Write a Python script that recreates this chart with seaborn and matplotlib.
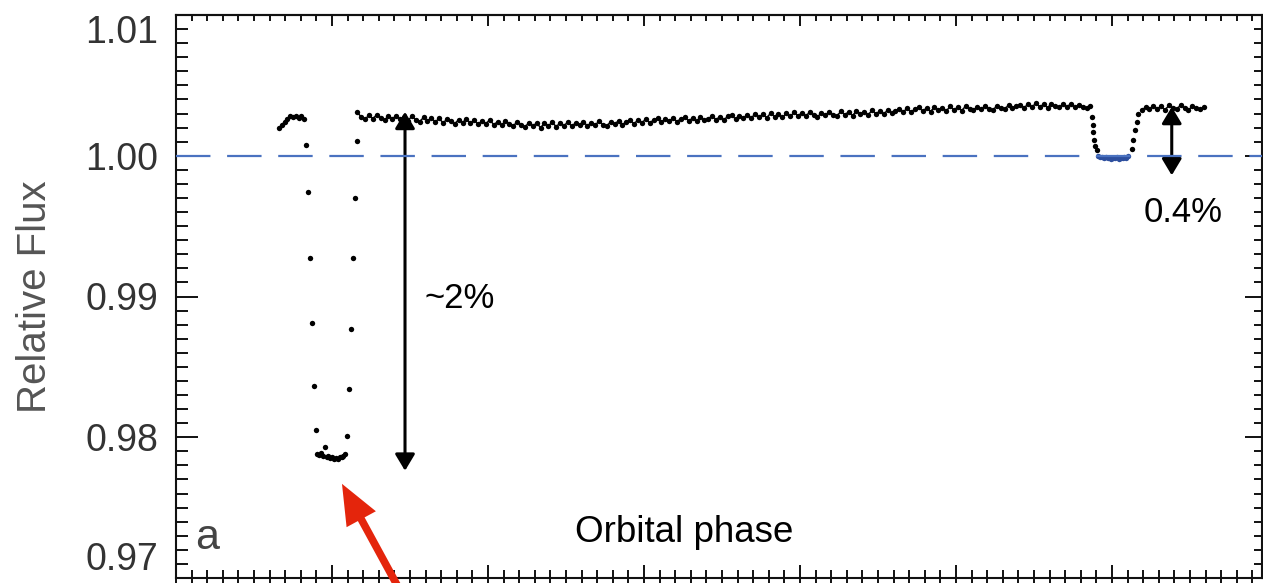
import numpy as np
import pandas as pd
import seaborn as sns
import matplotlib.pyplot as plt
from matplotlib.ticker import MultipleLocator

sns.set_style('ticks')
plt.rcParams['font.family'] = ['Liberation Sans', 'DejaVu Sans']

# --- data (orbital phase vs relative flux) ---
# out-of-transit points before the primary transit
pre_phase = [-0.0340, -0.0322, -0.0304, -0.0286, -0.0268, -0.0250, -0.0232, -0.0214, -0.0196, -0.0178]
pre_flux = [1.00200, 1.00218, 1.00242, 1.00262, 1.00280, 1.00276, 1.00284, 1.00271, 1.00279, 1.00262]

# primary transit (ingress, bottom, egress)
transit_phase = [-0.0167, -0.0152, -0.0141, -0.0130, -0.0115, -0.0104,
                 -0.0095, -0.0083, -0.0071, -0.0059, -0.0047, -0.0035, -0.0023, -0.0011,
                 0.0001, 0.0013, 0.0025, 0.0037, 0.0049, 0.0061, 0.0073, 0.0085,
                 0.0098, 0.0109, 0.0122, 0.0137, 0.0147, 0.0158]
transit_flux = [1.00075, 0.99742, 0.99273, 0.98813, 0.98362, 0.98053,
                0.97880, 0.97872, 0.97886, 0.97868, 0.97928, 0.97858, 0.97865, 0.97850,
                0.97858, 0.97846, 0.97855, 0.97849, 0.97861, 0.97857, 0.97870, 0.97878,
                0.98006, 0.98343, 0.98770, 0.99273, 0.99702, 1.00103]

# out-of-transit baseline between the eclipses (one point every 0.0025 in phase)
base_start, base_step = 0.0162, 0.0025
base_flux = [
    1.00310, 1.00275, 1.00262, 1.00286, 1.00264, 1.00290, 1.00270, 1.00252, 1.00283, 1.00262,
    1.00285, 1.00258, 1.00274, 1.00250, 1.00280, 1.00256, 1.00243, 1.00272, 1.00248, 1.00268,
    1.00240, 1.00266, 1.00233, 1.00260, 1.00245, 1.00226, 1.00257, 1.00236, 1.00262, 1.00231,
    1.00251, 1.00224, 1.00248, 1.00228, 1.00256, 1.00220, 1.00242, 1.00215, 1.00247, 1.00226,
    1.00213, 1.00240, 1.00220, 1.00203, 1.00236, 1.00210, 1.00233, 1.00199, 1.00231, 1.00214,
    1.00237, 1.00207, 1.00232, 1.00213, 1.00240, 1.00209, 1.00234, 1.00216, 1.00243, 1.00211,
    1.00236, 1.00219, 1.00245, 1.00221, 1.00212, 1.00242, 1.00224, 1.00249, 1.00220, 1.00243,
    1.00251, 1.00227, 1.00256, 1.00235, 1.00260, 1.00233, 1.00254, 1.00267, 1.00238, 1.00262,
    1.00245, 1.00269, 1.00242, 1.00264, 1.00273, 1.00248, 1.00267, 1.00244, 1.00276, 1.00253,
    1.00261, 1.00284, 1.00256, 1.00278, 1.00253, 1.00281, 1.00289, 1.00260, 1.00285, 1.00267,
    1.00292, 1.00265, 1.00299, 1.00274, 1.00295, 1.00270, 1.00303, 1.00278, 1.00296, 1.00272,
    1.00301, 1.00279, 1.00308, 1.00284, 1.00304, 1.00280, 1.00311, 1.00287, 1.00276, 1.00305,
    1.00286, 1.00313, 1.00290, 1.00282, 1.00316, 1.00293, 1.00310, 1.00285, 1.00319, 1.00296,
    1.00313, 1.00291, 1.00323, 1.00298, 1.00317, 1.00294, 1.00326, 1.00302, 1.00321, 1.00329,
    1.00313, 1.00336, 1.00310, 1.00332, 1.00343, 1.00317, 1.00339, 1.00314, 1.00346, 1.00324,
    1.00341, 1.00317, 1.00350, 1.00326, 1.00345, 1.00321, 1.00353, 1.00330, 1.00324, 1.00348,
    1.00329, 1.00354, 1.00333, 1.00322, 1.00357, 1.00336, 1.00331, 1.00360, 1.00338, 1.00355,
    1.00363, 1.00341, 1.00367, 1.00346, 1.00373, 1.00348, 1.00365, 1.00342, 1.00369, 1.00350,
    1.00344, 1.00366, 1.00347, 1.00371, 1.00343, 1.00363, 1.00349, 1.00338, 1.00350,
]

# secondary eclipse ingress / egress
sec_phase = [0.4870, 0.4876, 0.4880, 0.4886, 0.4891, 0.4902,
             0.5126, 0.5137, 0.5147, 0.5158, 0.5168]
sec_flux = [1.00276, 1.00217, 1.00170, 1.00110, 1.00068, 1.00039,
            1.00051, 1.00110, 1.00181, 1.00241, 1.00300]

# secondary eclipse bottom (drawn in blue)
sec_bottom_phase = [0.4912, 0.4924, 0.4936, 0.4948, 0.4960, 0.4972, 0.4984, 0.4996, 0.5008,
                    0.5020, 0.5032, 0.5044, 0.5056, 0.5068, 0.5080, 0.5092, 0.5104]
sec_bottom_flux = [0.99995, 0.99988, 0.99992, 0.99984, 0.99990, 0.99981, 0.99986, 0.99979, 0.99985,
                   0.99982, 0.99988, 0.99980, 0.99987, 0.99984, 0.99991, 0.99986, 0.99995]

# baseline after the secondary eclipse
post_phase = [0.5190, 0.5215, 0.5240, 0.5265, 0.5290, 0.5315, 0.5340, 0.5365, 0.5390,
              0.5415, 0.5440, 0.5465, 0.5490, 0.5515, 0.5540, 0.5565, 0.5590]
post_flux = [1.00322, 1.00345, 1.00330, 1.00356, 1.00334, 1.00351, 1.00326, 1.00358, 1.00337,
             1.00331, 1.00360, 1.00341, 1.00325, 1.00352, 1.00336, 1.00330, 1.00345]

y_ticks = [0.97, 0.98, 0.99, 1.00, 1.01]
y_tick_labels = ['0.97', '0.98', '0.99', '1.00', '1.01']

base_phase = base_start + base_step * np.arange(len(base_flux))

black_pts = pd.DataFrame({
    'phase': np.concatenate([pre_phase, transit_phase, base_phase, sec_phase, post_phase]),
    'flux': np.concatenate([pre_flux, transit_flux, base_flux, sec_flux, post_flux]),
})
blue_pts = pd.DataFrame({'phase': sec_bottom_phase, 'flux': sec_bottom_flux})

# out-of-eclipse stretches, joined so the dense cadence reads as a band
oot = pd.DataFrame({
    'phase': np.concatenate([pre_phase, base_phase, post_phase]),
    'flux': np.concatenate([pre_flux, base_flux, post_flux]),
    'segment': ['pre'] * len(pre_phase) + ['base'] * len(base_phase) + ['post'] * len(post_phase),
})

# --- figure ---
W, H = 1263, 583
fig = plt.figure(figsize=(W / 100, H / 100), dpi=100)
ax = fig.add_axes([176 / W, 5 / H, (1262 - 176) / W, (578 - 15) / H])

sns.lineplot(data=oot, x='phase', y='flux', units='segment', estimator=None, ax=ax,
             color='black', lw=1.1, zorder=3)
sns.scatterplot(data=black_pts, x='phase', y='flux', ax=ax, color='black', s=15,
                linewidth=0, zorder=3)
sns.scatterplot(data=blue_pts, x='phase', y='flux', ax=ax, color='#2d4f9e', s=15,
                linewidth=0, zorder=3)

ax.axhline(1.0, color='#4a72c0', lw=1.6, ls=(0, (15.5, 7.5)), zorder=4)

ax.set_xlim(-0.1, (1262 - 332) / 1560)
ax.set_ylim(0.97, 1.01)
ax.set_xlabel('')
ax.set_ylabel('Relative Flux', fontsize=29, color='#555555')
ax.yaxis.set_label_coords(-0.112, 0.5)

for s in ax.spines.values():
    s.set_linewidth(1.5)
    s.set_color('#111111')

ax.xaxis.set_major_locator(MultipleLocator(0.1))
ax.xaxis.set_minor_locator(MultipleLocator(0.01))
ax.yaxis.set_minor_locator(MultipleLocator(0.001))
ax.set_yticks(y_ticks)
ax.set_yticklabels(y_tick_labels)

ax.tick_params(axis='x', which='both', direction='inout', top=False, labelbottom=False,
               width=1.4, color='#111111')
ax.tick_params(axis='x', which='major', length=19)
ax.tick_params(axis='x', which='minor', length=11.5)
ax.tick_params(axis='y', which='both', direction='in', right=False, width=1.4,
               color='#111111', labelsize=27, labelcolor='#333333', pad=13)
ax.tick_params(axis='y', which='major', length=16)
ax.tick_params(axis='y', which='minor', length=8.6)

# the end labels sit inside the frame, as in the reference
ylabels = ax.get_yticklabels()
ylabels[0].set_va('bottom')
ylabels[-1].set_va('top')

# top and right axes have shorter inward ticks
top = ax.secondary_xaxis('top')
top.xaxis.set_major_locator(MultipleLocator(0.1))
top.xaxis.set_minor_locator(MultipleLocator(0.01))
top.tick_params(which='both', direction='in', labeltop=False, width=1.4, color='#111111')
top.tick_params(which='major', length=8)
top.tick_params(which='minor', length=4.3)
top.spines['top'].set_linewidth(1.5)

right = ax.secondary_yaxis('right')
right.yaxis.set_major_locator(MultipleLocator(0.01))
right.yaxis.set_minor_locator(MultipleLocator(0.001))
right.tick_params(which='both', direction='in', labelright=False, width=1.4, color='#111111')
right.tick_params(which='major', length=12)
right.tick_params(which='minor', length=6)

# depth arrows
ax.annotate('', xy=(0.0468, 0.97762), xytext=(0.0468, 1.00312),
            arrowprops=dict(arrowstyle='<|-|>,head_length=0.5,head_width=0.3',
                            mutation_scale=20, lw=2.2, color='black', shrinkA=0, shrinkB=0))
ax.annotate('', xy=(0.5383, 0.99861), xytext=(0.5383, 1.00347),
            arrowprops=dict(arrowstyle='<|-|>,head_length=0.5,head_width=0.3',
                            mutation_scale=20, lw=2.2, color='black', shrinkA=0, shrinkB=0))

# red pointer to the transit bottom
ax.annotate('', xy=(0.0064, 0.97669), xytext=(0.0466, 0.9685),
            arrowprops=dict(arrowstyle='simple,head_length=2.9,head_width=2.4,tail_width=0.55',
                            mutation_scale=10, color='#e4250c', lw=0, shrinkA=0, shrinkB=0),
            annotation_clip=False)

ax.text(0.0596, 0.98986, '~2%', fontsize=25, color='black', ha='left', va='center')
ax.text(0.5455, 0.99598, '0.4%', fontsize=25, color='black', ha='center', va='center')
ax.text(0.2256, 0.97256, 'Orbital phase', fontsize=26.5, color='black', ha='center',
        va='baseline')
ax.text(-0.0878, 0.97206, 'a', fontsize=31, color='#444444', ha='left', va='baseline')

fig.savefig('out.png', dpi=100)
